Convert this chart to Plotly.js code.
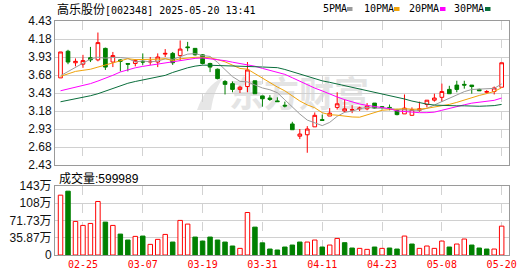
<!DOCTYPE html>
<html><head><meta charset="utf-8">
<script src="https://cdn.plot.ly/plotly-3.0.1.min.js"></script>
<style>html,body{margin:0;padding:0;background:#fff}#chart{width:530px;height:276px}</style>
</head><body><div id="chart"></div>
<script>
const dates = ['02-20','02-21','02-24','02-25','02-26','02-27','02-28','03-03','03-04','03-05',
  '03-06','03-07','03-10','03-11','03-12','03-13','03-14','03-17','03-18','03-19',
  '03-20','03-21','03-24','03-25','03-26','03-27','03-28','03-31','04-01','04-02',
  '04-03','04-07','04-08','04-09','04-10','04-11','04-14','04-15','04-16','04-17',
  '04-18','04-21','04-22','04-23','04-24','04-25','04-28','04-29','04-30','05-06',
  '05-07','05-08','05-09','05-12','05-13','05-14','05-15','05-16','05-19','05-20'];
const open = [3.64,4.01,3.85,3.83,3.92,3.89,4.05,3.86,3.89,3.84,
  3.84,3.87,3.86,3.86,3.97,3.98,3.95,4.07,4.05,3.96,
  3.84,3.76,3.59,3.56,3.48,3.52,3.60,3.39,3.36,3.32,
  3.26,3.00,2.83,2.85,2.96,3.06,3.11,3.23,3.18,3.19,
  3.21,3.21,3.29,3.24,3.23,3.19,3.14,3.12,3.19,3.27,
  3.33,3.37,3.48,3.54,3.55,3.54,3.48,3.44,3.45,3.51];
const high = [4.00,4.03,3.91,3.96,4.07,4.27,4.06,4.00,3.90,3.84,
  3.90,3.98,3.93,3.98,4.04,4.00,4.16,4.14,4.05,3.97,
  3.85,3.77,3.61,3.59,3.53,3.86,3.60,3.39,3.40,3.37,
  3.31,3.03,2.93,2.97,3.16,3.13,3.22,3.44,3.34,3.26,
  3.24,3.29,3.29,3.25,3.27,3.21,3.41,3.23,3.31,3.33,
  3.42,3.56,3.53,3.60,3.60,3.54,3.49,3.47,3.52,3.85];
const low = [3.64,3.83,3.80,3.78,3.86,3.87,3.75,3.79,3.73,3.73,
  3.80,3.82,3.82,3.79,3.93,3.82,3.88,4.01,3.95,3.83,
  3.72,3.62,3.41,3.44,3.43,3.44,3.42,3.24,3.32,3.31,
  3.23,2.92,2.79,2.60,2.96,3.05,3.11,3.20,3.16,3.15,
  3.18,3.19,3.21,3.20,3.19,3.12,3.14,3.12,3.17,3.23,
  3.31,3.31,3.42,3.44,3.49,3.42,3.46,3.42,3.41,3.51];
const close = [4.00,3.86,3.87,3.88,3.89,4.13,3.79,3.95,3.87,3.83,
  3.88,3.86,3.87,3.93,3.98,3.85,4.04,4.06,3.96,3.84,
  3.79,3.63,3.55,3.48,3.51,3.75,3.42,3.35,3.34,3.31,
  3.25,2.92,2.86,2.93,3.12,3.05,3.15,3.28,3.21,3.20,
  3.22,3.25,3.22,3.23,3.22,3.13,3.22,3.20,3.21,3.33,
  3.36,3.45,3.42,3.48,3.54,3.52,3.46,3.45,3.50,3.85];
const prevClose = 3.64;
const volume = [124.4,132.7,69.8,61.5,65.6,111.3,68.4,61.5,43.5,31.1,
  38.7,39.4,22.1,32.5,42.8,26.9,71.9,64.3,37.3,29.0,
  37.3,31.1,26.9,18.7,13.8,88.4,58.0,25.3,12.4,10.4,
  16.6,20.7,26.9,26.9,31.1,16.6,20.7,34.5,25.6,14.5,
  13.8,11.7,16.6,13.8,14.5,12.4,39.4,22.8,13.8,18.7,
  13.8,29.0,16.6,22.8,33.2,20.7,14.5,12.4,12.4,59.9989];
const ma5 = [3.670,3.731,3.791,3.847,3.902,3.927,3.913,3.925,3.923,3.910,
  3.861,3.876,3.862,3.874,3.904,3.897,3.933,3.970,3.977,3.950,
  3.938,3.855,3.755,3.657,3.592,3.584,3.542,3.500,3.475,3.434,
  3.335,3.235,3.138,3.054,3.016,2.977,3.022,3.106,3.162,3.178,
  3.211,3.231,3.220,3.218,3.217,3.201,3.194,3.190,3.191,3.217,
  3.264,3.309,3.354,3.408,3.449,3.479,3.482,3.489,3.494,3.556];
const ma10 = [3.661,3.700,3.730,3.745,3.760,3.790,3.820,3.845,3.870,3.906,
  3.894,3.895,3.894,3.899,3.907,3.879,3.905,3.916,3.926,3.927,
  3.918,3.894,3.863,3.817,3.771,3.761,3.699,3.628,3.566,3.513,
  3.460,3.389,3.319,3.265,3.225,3.156,3.129,3.122,3.108,3.097,
  3.094,3.127,3.163,3.190,3.198,3.206,3.213,3.205,3.205,3.217,
  3.233,3.252,3.272,3.300,3.333,3.372,3.396,3.422,3.451,3.503];
const ma20 = [3.461,3.485,3.505,3.528,3.560,3.596,3.634,3.676,3.722,3.755,
  3.780,3.800,3.816,3.830,3.843,3.864,3.883,3.898,3.911,3.917,
  3.906,3.895,3.879,3.858,3.839,3.820,3.802,3.772,3.746,3.720,
  3.689,3.642,3.591,3.541,3.498,3.459,3.414,3.375,3.337,3.305,
  3.277,3.258,3.241,3.228,3.212,3.181,3.171,3.164,3.157,3.157,
  3.164,3.190,3.218,3.245,3.266,3.289,3.305,3.314,3.328,3.360];
const ma30 = [3.308,3.327,3.350,3.368,3.392,3.420,3.455,3.495,3.535,3.565,
  3.590,3.610,3.627,3.645,3.675,3.715,3.752,3.780,3.803,3.817,
  3.815,3.810,3.806,3.804,3.801,3.797,3.795,3.791,3.787,3.782,
  3.757,3.726,3.692,3.660,3.634,3.599,3.578,3.555,3.533,3.512,
  3.491,3.470,3.448,3.424,3.398,3.374,3.347,3.318,3.293,3.276,
  3.262,3.256,3.251,3.252,3.252,3.245,3.246,3.250,3.255,3.272];
const xTickLabels = ['02-25','03-07','03-19','03-31','04-11','04-23','05-08','05-20'];
const priceTicks = [2.43,2.68,2.93,3.18,3.43,3.68,3.93,4.18,4.43];
const volTicks = [0,35.87,71.73,107.6,143.47];
const volTickText = ['0','35.87万','71.73万','108万','143万'];
const maNames = ['5PMA','10PMA','20PMA','30PMA'];
const maColors = ['#9b9b9b','#f0a30a','#ff00ff','#0a6e3c'];

const RED = '#ff0000', GREEN = '#008000';
const upVol = volume.map((v,i)=> close[i] >= (i ? close[i-1] : prevClose));

const traces = [];
[ma5,ma10,ma20,ma30].forEach((m,k)=>traces.push({type:'scatter',mode:'lines',x:dates,y:m,xaxis:'x',yaxis:'y',
  line:{color:maColors[k],width:1},hoverinfo:'skip',showlegend:false}));
traces.push({type:'candlestick',x:dates,open:open,high:high,low:low,close:close,xaxis:'x',yaxis:'y',
  increasing:{line:{color:RED,width:1},fillcolor:'#ffffff'},
  decreasing:{line:{color:GREEN,width:1},fillcolor:GREEN},
  whiskerwidth:0,showlegend:false,hoverinfo:'skip'});
traces.push({type:'bar',x:dates,y:volume,xaxis:'x2',yaxis:'y2',width:0.6,
  marker:{color:upVol.map(u=>u?'#ffffff':GREEN),line:{color:upVol.map(u=>u?RED:GREEN),width:1}},
  showlegend:false,hoverinfo:'skip'});

const W=530,H=276,L=55,R=21,T=21,B=21;
const pw=W-L-R, ph=H-T-B;
const px=x=>(x-L)/pw, py=y=>(H-B-y)/ph;

const xCommon = {type:'category',range:[-0.74,59.98],tickmode:'array',tickvals:xTickLabels,ticktext:xTickLabels,
  showgrid:true,gridcolor:'#d2d2d2',griddash:'dash',gridwidth:1,showline:true,mirror:true,linecolor:'#9a9a9a',linewidth:1,
  zeroline:false,ticks:'',fixedrange:true};
const layout = {
  width:W,height:H,margin:{l:L,r:R,t:T,b:B},paper_bgcolor:'#fff',plot_bgcolor:'rgba(0,0,0,0)',
  showlegend:false,
  xaxis:Object.assign({},xCommon,{anchor:'y',showticklabels:false,rangeslider:{visible:false}}),
  yaxis:{domain:[py(165),1],range:[2.43,4.43],tickmode:'array',tickvals:priceTicks,ticktext:priceTicks.map(v=>v.toFixed(2)),
    showgrid:true,gridcolor:'#d0d0d0',gridwidth:1,showline:true,mirror:true,linecolor:'#9a9a9a',zeroline:false,ticks:'',
    tickfont:{family:'Liberation Sans, Arial, sans-serif',size:12,color:'#111'},fixedrange:true},
  xaxis2:Object.assign({},xCommon,{anchor:'y2',showticklabels:true,
    tickfont:{family:'DejaVu Sans Mono, monospace',size:10,color:RED}}),
  yaxis2:{domain:[0,py(186)],range:[0,143.47],tickmode:'array',tickvals:volTicks,ticktext:volTickText,
    showgrid:true,gridcolor:'#d0d0d0',gridwidth:1,showline:true,mirror:true,linecolor:'#9a9a9a',zeroline:false,ticks:'',
    tickfont:{family:'Liberation Sans, Noto Sans CJK SC, sans-serif',size:12,color:'#111'},fixedrange:true},
  annotations:[],shapes:[],images:[]
};
layout.annotations.push({xref:'paper',yref:'paper',x:px(55),y:py(9),xanchor:'left',yanchor:'middle',showarrow:false,
  text:'<span style="font-family:Noto Sans CJK SC;font-size:12px">高乐股份</span>[002348] 2025-05-20 13:41',
  font:{family:'DejaVu Sans Mono, monospace',size:10,color:'#000'}});
layout.annotations.push({xref:'paper',yref:'paper',x:px(57),y:py(177),xanchor:'left',yanchor:'middle',showarrow:false,
  text:'<span style="font-family:Noto Sans CJK SC;font-size:12px">成交量</span>:599989',
  font:{family:'Liberation Sans, Arial, sans-serif',size:12,color:'#000'}});
const legX=[321,362,407,452], sqX=[347,394,440,485];
maNames.forEach((n,k)=>{
  layout.annotations.push({xref:'paper',yref:'paper',x:px(legX[k]),y:py(9),xanchor:'left',yanchor:'middle',showarrow:false,
    text:n,font:{family:'DejaVu Sans Mono, monospace',size:10,color:'#000'}});
  layout.shapes.push({type:'rect',xref:'paper',yref:'paper',x0:px(sqX[k]),x1:px(sqX[k]+5.5),y0:py(11),y1:py(7),
    fillcolor:maColors[k],line:{width:0}});
});
const wm = '<svg xmlns="http://www.w3.org/2000/svg" width="180" height="40">'+
  '<path d="M4 36 C10 20 18 8 30 4 C24 12 20 22 18 36 Z" fill="#e6e6e6"/>'+
  '<text x="36" y="33" font-family="Noto Sans CJK SC" font-weight="bold" font-size="35" fill="#e4e4e4">东方财富</text></svg>';
layout.images.push({source:'data:image/svg+xml;charset=utf-8,'+encodeURIComponent(wm),xref:'paper',yref:'paper',
  x:px(193),y:py(74),sizex:180/pw,sizey:40/ph,xanchor:'left',yanchor:'top',sizing:'stretch',layer:'below'});

Plotly.newPlot('chart',traces,layout,{staticPlot:true,displayModeBar:false});
</script></body></html>
